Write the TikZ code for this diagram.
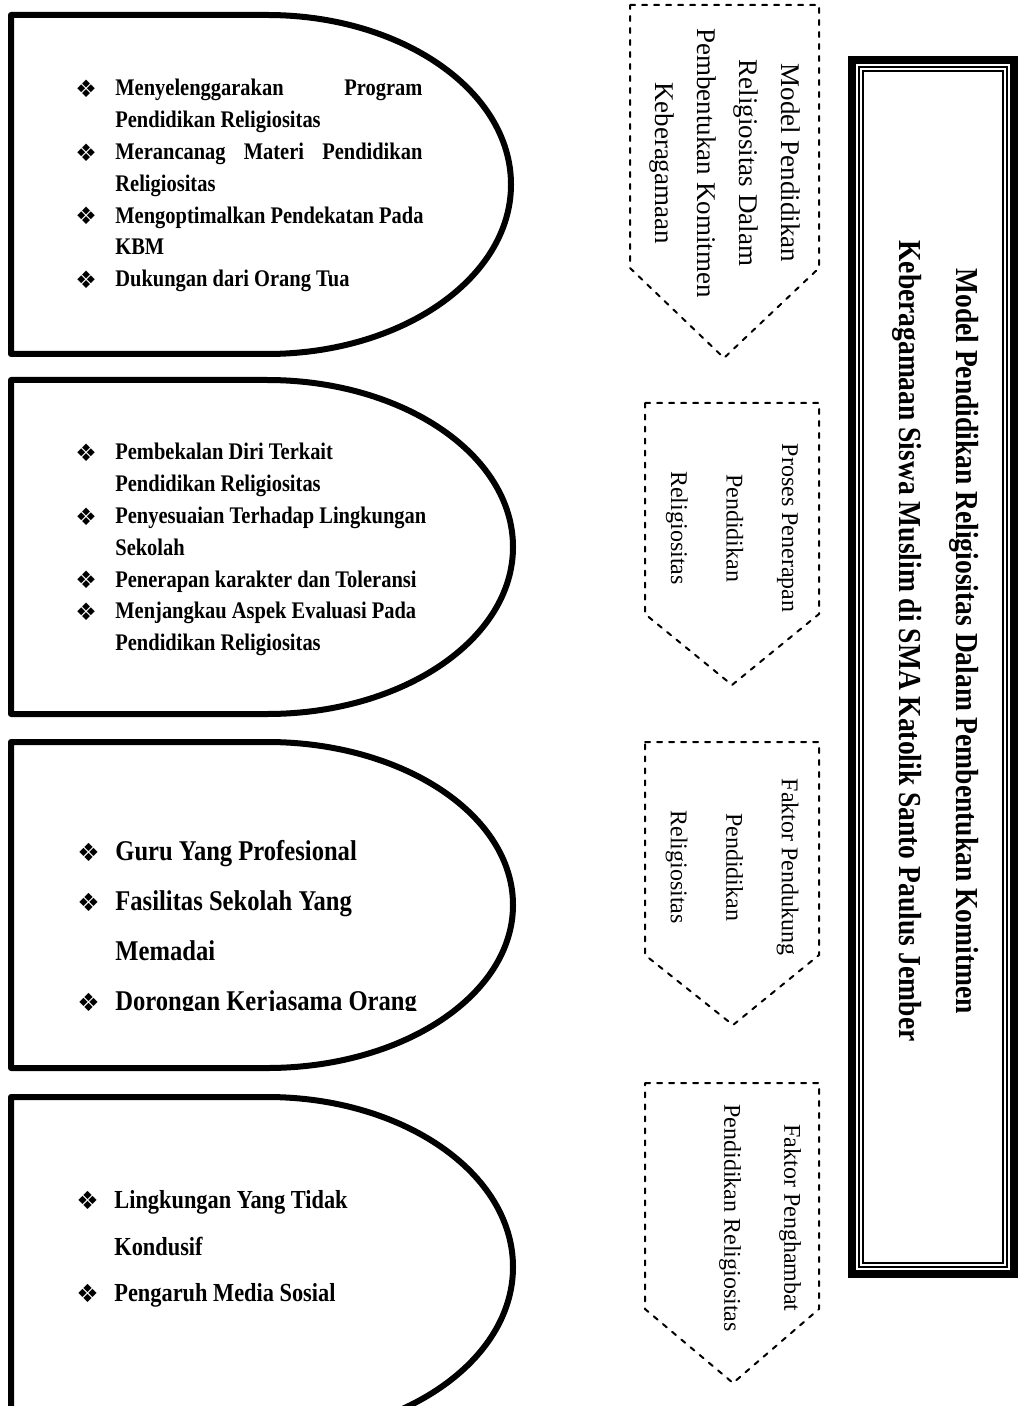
\documentclass[tikz,border=0pt]{standalone}
\usepackage{fontspec}
\setmainfont{Liberation Serif}
\newfontfamily\narrowfont[FakeStretch=0.86]{Liberation Serif}
\newfontfamily\dingfont{DejaVu Sans}
\newcommand{\rb}{\makebox[20pt][l]{\raisebox{-0.8pt}{\dingfont\fontsize{12}{12}\selectfont\char"2756}}}
\newcommand{\rbig}{\makebox[19pt][l]{\raisebox{-0.6pt}{\dingfont\fontsize{12.5}{12}\selectfont\char"2756}}}
\newcommand{\rind}{\hspace*{20pt}}
\newcommand{\rindb}{\hspace*{19pt}}
\newcommand{\jl}[1]{\makebox[153.5pt][s]{#1}}
\tikzset{
  blob/.style={line width=3pt},
  dbox/.style={line width=1pt,dash pattern=on 2.5pt off 3.5pt},
  lst/.style={anchor=north west,inner sep=0pt,align=left,text width=200pt,
              font=\narrowfont\bfseries\fontsize{11.9}{15.9}\selectfont,
              execute at begin node={\spaceskip=0pt\xspaceskip=0pt\relax}},
  lbl/.style={rotate=-90,inner sep=0pt,align=center,font=\fontsize{12}{27.75}\selectfont,
              execute at begin node={\spaceskip=0pt\xspaceskip=0pt\relax}},
  every picture/.style={line cap=round,line join=round}}

\begin{document}
\begin{tikzpicture}[x=0.5pt,y=-0.5pt]
  \useasboundingbox (0,0) rectangle (1019,1406);
  \draw[blob] (11,15) -- (267,15) arc[start angle=90,end angle=-90,x radius=122pt,y radius=84.75pt] -- (11,354) -- cycle;
  \draw[blob] (11,380) -- (267,380) arc[start angle=90,end angle=-90,x radius=123pt,y radius=83.5pt] -- (11,714) -- cycle;
  \draw[blob] (11,742) -- (267,742) arc[start angle=90,end angle=-90,x radius=123pt,y radius=81.5pt] -- (11,1068) -- cycle;
  \draw[blob] (11,1097) -- (267,1097) arc[start angle=90,end angle=-90,x radius=123pt,y radius=85pt] -- (11,1437) -- cycle;
  \draw[dbox] (630,5) -- (819,5) -- (819,268) -- (724,358) -- (630,268) -- cycle;
  \draw[dbox] (645,403) -- (819,403) -- (819,614) -- (732,685) -- (645,614) -- cycle;
  \draw[dbox] (645,742) -- (819,742) -- (819,955) -- (733,1025) -- (645,955) -- cycle;
  \draw[dbox] (645,1083) -- (819,1083) -- (819,1309) -- (733,1383) -- (645,1309) -- cycle;
  \draw[line width=4pt,line join=miter] (852,60) rectangle (1014,1274);
  \draw[line width=1pt,line join=miter] (859,67) rectangle (1007,1267);
  \draw[line width=0.7pt,line join=miter] (863,71) rectangle (1003,1263);

  \node[lst] (l1) at (75,79){\rb\jl{Menyelenggarakan Program}\\
    \rind Pendidikan Religiositas\\ \rb\jl{Merancanag Materi Pendidikan}\\
    \rind Religiositas\\ \rb Mengoptimalkan Pendekatan Pada\\ \rind KBM\\
    \rb Dukungan dari Orang Tua};
  \node[lst] (l2) at (75,443){\rb Pembekalan Diri Terkait\\
    \rind Pendidikan Religiositas\\ \rb Penyesuaian Terhadap Lingkungan\\
    \rind Sekolah\\ \rb Penerapan karakter dan Toleransi\\
    \rb Menjangkau Aspek Evaluasi Pada\\ \rind Pendidikan Religiositas};
  \begin{scope}
    \clip (0,742) rectangle (640,1010);
    \node[lst,font=\narrowfont\bfseries\fontsize{14.3}{25}\selectfont] (l3) at (77,840){\rbig Guru Yang Profesional\\
      \rbig Fasilitas Sekolah Yang\\ \rindb Memadai\\ \rbig Dorongan Kerjasama Orang};
  \end{scope}
  \node[lst,font=\narrowfont\bfseries\fontsize{13}{23.3}\selectfont] (l4) at (76,1190){\rbig Lingkungan Yang Tidak\\
    \rindb Kondusif\\ \rbig Pengaruh Media Sosial};

  \node[lbl,font=\fontsize{13.5}{21}\selectfont] (m1) at (725,163){Model Pendidikan\\Religiositas Dalam\\Pembentukan Komitmen\\Keberagamaan};
  \node[lbl] (m2) at (732,528){Proses Penerapan\\Pendidikan\\Religiositas};
  \node[lbl] (m3) at (732,867){Faktor Pendukung\\Pendidikan\\Religiositas};
  \node[lbl,font=\fontsize{12}{30}\selectfont] (m4) at (760,1218){Faktor Penghambat\\Pendidikan Religiositas};
  \node[lbl,font=\narrowfont\bfseries\fontsize{16}{28.5}\selectfont] (ttl) at (936,641){Model Pendidikan Religiositas Dalam Pembentukan Komitmen\\
    Keberagamaan Siswa Muslim di SMA Katolik Santo Paulus Jember};
\end{tikzpicture}
\end{document}
